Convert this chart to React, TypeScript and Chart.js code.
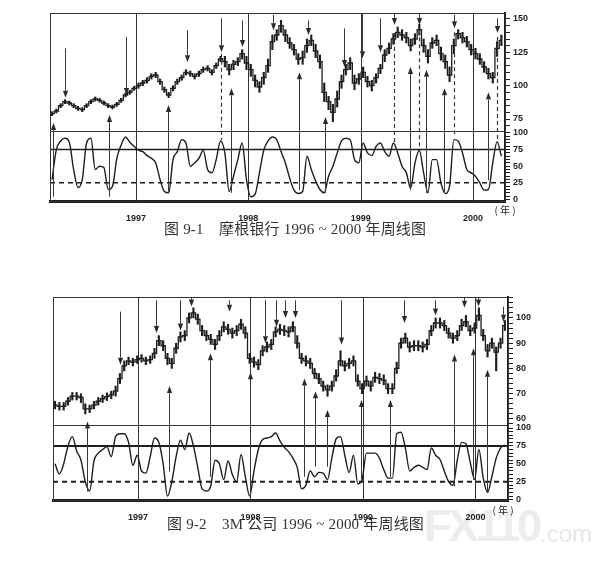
import React, { useEffect, useRef } from "react";
import { Chart, registerables } from "chart.js";

Chart.register(...registerables);

const yearTicks = [1997, 1998, 1999, 2000];
const oscLabels = [0, 25, 50, 75, 100];

// ---------- 图 9-1 摩根银行 (two-week samples) ----------
const jpmStart = 1996.253;
const jpmClose = [79,81,85,88,87,85,83,82,85,88, 90,89,87,85,84,86,89,93,95,98, 100,102,104,107,108,103,97,93,98,103, 106,110,109,107,109,112,113,110,115,120, 118,112,116,118,124,117,112,104,99,106, 115,133,138,145,138,132,127,120,121,130, 134,126,118,95,88,80,90,103,112,117, 102,105,110,103,100,106,113,123,128,135, 140,138,136,130,135,142,130,122,132,134, 124,118,108,130,139,136,133,127,124,120, 114,109,106,128,134];
const jpmHigh = [80.5,82.5,86.5,89.5,88.5,86.5,84.5,83.5,86.5,89.5, 91.5,90.5,88.5,86.5,85.5,87.5,90.5,94.5,96.5,99.5, 102,104,106,109,110,105,99,95,100,105, 108,112,111,109,111,114,115,112,117,122, 122,116,119,121,127,122,116,108,103,110, 120,138,142,149,142,136,131,124,126,135, 138,131,123,102,92,86,96,108,116,121, 108,109,114,107,104,109,116,127,132,139, 144,142,140,135,139,146,135,127,136,138, 129,123,114,135,142,140,137,131,128,124, 118,113,110,133,138];
const jpmLow = [77.5,79.5,83.5,86.5,85.5,83.5,81.5,80.5,83.5,86.5, 88.5,87.5,85.5,83.5,82.5,84.5,87.5,91.5,93.5,96.5, 98,100,102,105,106,101,95,91,96,101, 104,108,107,105,107,110,111,108,113,118, 114,108,112,115,120,112,107,99,95,101, 110,127,134,140,133,128,123,116,116,125, 130,121,113,88,82,73,84,98,108,112, 97,101,106,99,96,102,109,118,124,131, 136,134,132,126,131,138,125,117,128,130, 119,113,103,124,135,132,129,123,120,116, 110,105,102,122,130];
const jpmOsc = [30,75,88,92,86,45,18,30,85,92, 45,50,48,15,20,62,82,94,86,80, 74,72,66,62,55,30,12,10,60,72, 90,85,50,55,62,74,45,40,60,88, 70,12,35,60,85,30,4,8,40,74, 88,94,90,72,55,32,14,9,12,65, 45,28,15,10,35,50,70,88,92,90, 60,55,85,70,66,80,85,72,65,85, 70,50,40,17,55,74,40,10,60,60, 25,9,20,90,88,70,45,40,35,25, 14,15,55,87,65];
const jpmPriceLabels = [75, 100, 125, 150];
// [year, price at tail, price at tip]
const jpmDown = [[1996.368,128,91],[1996.908,136.5,93],[1997.451,141.5,117.5],[1997.757,150.5,125],[1997.944,149,129],[1998.22,153,141.5],[1998.532,149,138],[1998.852,143,114],[1999.012,154,120.5],[1999.173,150.5,125],[1999.297,154,145.5],[1999.52,154,145.5],[1999.832,153,143],[2000.215,150.5,139.5]];
// [year, price at top, oscillator at bottom]
const jpmDash = [[1997.757,124,89],[1999.297,139.5,85],[1999.52,141.5,74],[1999.832,140,94],[2000.215,136.5,89]];
// [year, oscillator at tail, price at tip]
const jpmUp = [[1996.261,4,72],[1996.76,4,78],[1997.285,10,85.5],[1997.846,10,98],[1998.451,14,110],[1998.683,10,76.5],[1999.44,14,114],[1999.582,10,112],[1999.743,11,98],[2000.134,29,95]];

// ---------- 图 9-2 3M 公司 ----------
const mmmStart = 1996.262;
const mmmClose = [65.5,65,65,67,69,69,68.5,64,64,65.5, 67,68,68.8,69.5,71,76,81,83,82.5,83.5, 84,83,83.5,86,91,89,84,82,88,92.5, 93,100,102,99.5,95,93,91.5,89.5,93,96.5, 95.5,94,95,97.5,94,84,82.5,81.5,87,88.5, 89.5,94.5,95.5,95,94.5,96.5,90,84,83,82, 78,76,73,71.5,73,77,83,81,82,83, 75,72,75,73,76.5,76,75.4,72,72,80, 90,92,88.5,89,89,88.5,89.5,95,98,98, 97,94,92,93,97,98.5,95,96,101,93, 87,90,86.5,90,97];
const mmmHigh = [67,66.5,66.5,68.5,70.5,70.5,70,66,65.5,67, 68.5,69.5,70.3,71,73,78,83,84.5,84,85, 85.5,84.5,85,88,93,91,86,84,90,94.5, 95,102,104,101.5,97,95,93.5,91.5,95,98.5, 97.5,96,97,99.5,96.5,86,84.5,83.5,89,90.5, 91.5,96.5,97.5,97,96.5,98.5,93,86,85,84, 80,78,75,73.5,75,79.5,87,83,84,85, 77.5,74,77,75,78.5,78,77.5,74,74,82.5, 92,94,90.5,91,91,90.5,91.5,97,100,100, 99,96,94,95,99.5,101,97,98,104,95.5, 89.5,92,88.5,92,99];
const mmmLow = [64,63.5,63.5,65.5,67.5,67.5,66.5,62,62.5,64, 65.5,66.5,67.3,68,69,74,79,81.5,81,82, 82.5,81.5,82,84,89,87,81.5,80,86,90.5, 91,98,100,97.5,93,91,89.5,87.5,91,94.5, 93.5,92,93,95.5,92,82,80.5,79.5,85,86.5, 87.5,92.5,93.5,93,92.5,94.5,88,82,81,80, 76,74,71,69,71,75,81,79,80,81, 73,70,73,71,74.5,74,73.5,70,70,78, 88,90,86.5,87,87,86.5,87.5,93,96,96, 95,92,90,91,95,96.5,93,94,99,91, 84.5,88,79,88,95];
const mmmOsc = [50,36,50,75,88,68,55,25,12,54, 65,70,74,60,88,92,92,80,48,62, 40,37,60,86,80,50,5,25,60,83, 70,93,75,45,15,12,19,55,50,28, 54,35,25,63,32,5,40,70,84,86, 88,93,82,73,67,58,45,15,20,40, 32,38,37,28,58,85,88,62,38,62, 22,28,65,65,65,58,42,30,30,92, 94,72,40,45,48,45,42,72,62,56, 40,25,20,55,80,78,52,28,70,30, 10,32,58,72,76];
const mmmPriceLabels = [60, 70, 80, 90, 100];
const mmmDown = [[1996.836,102.5,81.5],[1997.163,107,94],[1997.376,107,95],[1997.472,108,104.5],[1997.806,107,102.5],[1998.133,107,90],[1998.23,107,96.5],[1998.31,107,100],[1998.4,107,100],[1998.809,107,89.5],[1999.363,107,98],[1999.645,107,101],[1999.903,108,104],[2000.021,108,104.5],[2000.247,104.5,98.5]];
const mmmDash: number[][] = [];
const mmmUp = [[1996.546,11.5,59],[1997.272,39,73],[1997.637,32,86],[1997.993,5,78.5],[1998.475,32,76],[1998.577,46,71],[1998.681,46,63.5],[1998.984,28,67.5],[1999.245,32,67.5],[1999.808,18.5,85.5],[1999.98,28,88],[2000.099,10,79.5]];

const INK = "#1e1e1e";

function steps(a: number, b: number, s: number) {
  const out: number[] = [];
  for (let v = a; v <= b + 1e-9; v += s) out.push(Math.round(v * 100) / 100);
  return out;
}

type Spec = {
  start: number; close: number[]; high: number[]; low: number[]; osc: number[];
  xMin: number; xMax: number;
  pMin: number; pMax: number; pTicks: number[]; pLabels: number[];
  oMin: number; oMax: number; oTicks: number[];
  pWeight: number; oWeight: number;
  pad: { left: number; right: number; top: number; bottom: number };
  axisW: number; xAxisH: number; fontSize: number;
  down: number[][]; up: number[][]; dash: number[][];
  refWidth: number; suffixX: number; suffixDy: number;
};

function drawArrow(ctx: CanvasRenderingContext2D, x: number, yFrom: number, yTo: number) {
  const head = 7, half = 2.6;
  const dir = yTo > yFrom ? 1 : -1;
  ctx.beginPath();
  ctx.moveTo(x, yFrom);
  ctx.lineTo(x, yTo - dir * head);
  ctx.stroke();
  ctx.beginPath();
  ctx.moveTo(x, yTo);
  ctx.lineTo(x - half, yTo - dir * head);
  ctx.lineTo(x + half, yTo - dir * head);
  ctx.closePath();
  ctx.fill();
}

function overlay(spec: Spec) {
  return {
    id: "overlay",
    beforeDatasetsDraw(chart: any) {
      const { ctx, chartArea: a, scales } = chart;
      const xs = scales.x, yP = scales.y, yO = scales.y2;
      const hl = (y: number) => { ctx.beginPath(); ctx.moveTo(a.left, y); ctx.lineTo(a.right, y); ctx.stroke(); };
      ctx.save();
      ctx.strokeStyle = "#333";
      ctx.lineWidth = 1;
      yearTicks.forEach((v) => {
        const px = Math.round(xs.getPixelForValue(v)) + 0.5;
        ctx.beginPath(); ctx.moveTo(px, a.top); ctx.lineTo(px, a.bottom); ctx.stroke();
      });
      hl(Math.round(yP.bottom) + 0.5);
      ctx.strokeStyle = INK;
      ctx.lineWidth = spec.refWidth;
      hl(yO.getPixelForValue(75));
      ctx.setLineDash([5, 4]);
      hl(yO.getPixelForValue(25));
      ctx.restore();
    },
    afterDatasetsDraw(chart: any) {
      const { ctx, chartArea: a, scales } = chart;
      const xs = scales.x, yP = scales.y, yO = scales.y2;
      ctx.save();
      ctx.strokeStyle = "#3a3a3a";
      ctx.fillStyle = "#2a2a2a";
      ctx.lineWidth = 1;
      spec.down.forEach(([x, from, to]) => {
        drawArrow(ctx, Math.round(xs.getPixelForValue(x)) + 0.5, yP.getPixelForValue(from), yP.getPixelForValue(to));
      });
      spec.up.forEach(([x, from, to]) => {
        drawArrow(ctx, Math.round(xs.getPixelForValue(x)) + 0.5, yO.getPixelForValue(from), yP.getPixelForValue(to));
      });
      ctx.setLineDash([4, 3]);
      ctx.lineWidth = 1.2;
      spec.dash.forEach(([x, from, to]) => {
        const px = Math.round(xs.getPixelForValue(x)) + 0.5;
        ctx.beginPath(); ctx.moveTo(px, yP.getPixelForValue(from)); ctx.lineTo(px, yO.getPixelForValue(to)); ctx.stroke();
      });
      ctx.setLineDash([]);
      ctx.strokeStyle = "#333";
      ctx.lineWidth = 1;
      ctx.strokeRect(Math.round(a.left) + 0.5, Math.round(a.top) + 0.5, Math.round(a.right - a.left), Math.round(a.bottom - a.top));
      ctx.restore();
    },
    afterDraw(chart: any) {
      const { ctx, chartArea: a } = chart;
      ctx.save();
      ctx.fillStyle = INK;
      ctx.font = `${spec.fontSize + 1}px "Noto Sans CJK SC", sans-serif`;
      ctx.textAlign = "center";
      ctx.textBaseline = "middle";
      ctx.fillText("( 年 )", a.right + spec.suffixX, a.bottom + spec.suffixDy);
      ctx.restore();
    },
  };
}

function makeConfig(spec: Spec): any {
  const xs = spec.close.map((_, i) => spec.start + i / 26);
  const tickFont = { family: '"Liberation Sans", Arial, sans-serif', size: spec.fontSize, weight: "bold" as const };
  return {
    type: "line",
    data: {
      datasets: [
        {
          type: "bar",
          data: xs.map((x, i) => ({ x, y: [spec.low[i], spec.high[i]] })),
          yAxisID: "y",
          backgroundColor: INK,
          barThickness: 1.5,
          order: 2,
        },
        {
          type: "line",
          data: xs.map((x, i) => ({ x, y: spec.close[i] })),
          yAxisID: "y",
          borderColor: INK,
          borderWidth: 1.3,
          stepped: "middle",
          pointRadius: 0,
          fill: false,
          order: 1,
        },
        {
          type: "line",
          data: xs.map((x, i) => ({ x, y: spec.osc[i] })),
          yAxisID: "y2",
          borderColor: INK,
          borderWidth: 1.4,
          cubicInterpolationMode: "monotone",
          pointRadius: 0,
          fill: false,
          order: 0,
        },
      ],
    },
    options: {
      animation: false,
      responsive: false,
      events: [],
      layout: { padding: spec.pad },
      plugins: { legend: { display: false }, tooltip: { enabled: false }, title: { display: false } },
      scales: {
        x: {
          type: "linear",
          min: spec.xMin,
          max: spec.xMax,
          offset: false,
          afterBuildTicks: (s: any) => { s.ticks = yearTicks.map((v) => ({ value: v })); },
          afterFit: (s: any) => { s.height = spec.xAxisH; },
          ticks: { autoSkip: false, maxRotation: 0, padding: 4, color: INK, font: tickFont, callback: (v: number) => String(Math.round(v)) },
          grid: { display: false },
          border: { display: true, color: INK, width: 3 },
        },
        y: {
          type: "linear",
          position: "right",
          stack: "panels",
          stackWeight: spec.pWeight,
          min: spec.pMin,
          max: spec.pMax,
          afterBuildTicks: (s: any) => { s.ticks = spec.pTicks.map((v) => ({ value: v })); },
          afterFit: (s: any) => { s.width = spec.axisW; },
          ticks: { autoSkip: false, padding: 3, color: INK, font: tickFont, callback: (v: number) => (spec.pLabels.includes(v) ? String(v) : "") },
          grid: { drawOnChartArea: false, drawTicks: true, tickLength: 5, color: INK, tickWidth: 1 },
          border: { display: true, color: INK, width: 2 },
        },
        y2: {
          type: "linear",
          position: "right",
          stack: "panels",
          stackWeight: spec.oWeight,
          min: spec.oMin,
          max: spec.oMax,
          afterBuildTicks: (s: any) => { s.ticks = spec.oTicks.map((v) => ({ value: v })); },
          afterFit: (s: any) => { s.width = spec.axisW; },
          ticks: { autoSkip: false, padding: 3, color: INK, font: tickFont, callback: (v: number) => (oscLabels.includes(v) ? String(v) : "") },
          grid: { drawOnChartArea: false, drawTicks: true, tickLength: 5, color: INK, tickWidth: 1 },
          border: { display: true, color: INK, width: 2 },
        },
      },
    },
    plugins: [overlay(spec)],
  };
}

const spec1: Spec = {
  start: jpmStart, close: jpmClose, high: jpmHigh, low: jpmLow, osc: jpmOsc,
  xMin: 1996.235, xMax: 2000.285,
  pMin: 66, pMax: 154.5, pTicks: steps(70, 150, 5), pLabels: jpmPriceLabels,
  oMin: -2.3, oMax: 103, oTicks: steps(0, 100, 5),
  pWeight: 118, oWeight: 70,
  pad: { left: 50, right: 42, top: 13, bottom: 0 },
  axisW: 50, xAxisH: 21, fontSize: 9,
  down: jpmDown, up: jpmUp, dash: jpmDash,
  refWidth: 1.5, suffixX: 0, suffixDy: 9,
};

const spec2: Spec = {
  start: mmmStart, close: mmmClose, high: mmmHigh, low: mmmLow, osc: mmmOsc,
  xMin: 1996.244, xMax: 2000.29,
  pMin: 57.6, pMax: 108.3, pTicks: steps(58, 108, 2), pLabels: mmmPriceLabels,
  oMin: -0.5, oMax: 104.2, oTicks: steps(0, 100, 5),
  pWeight: 128, oWeight: 75,
  pad: { left: 53, right: 39, top: 12, bottom: 0 },
  axisW: 50, xAxisH: 20, fontSize: 9,
  down: mmmDown, up: mmmUp, dash: mmmDash,
  refWidth: 2, suffixX: -5, suffixDy: 10,
};

function ChartCanvas({ spec, top, height }: { spec: Spec; top: number; height: number }) {
  const ref = useRef<HTMLCanvasElement | null>(null);
  useEffect(() => {
    if (!ref.current) return;
    const chart = new Chart(ref.current, makeConfig(spec));
    return () => chart.destroy();
  }, [spec]);
  return <canvas ref={ref} width={597} height={height} style={{ position: "absolute", left: 0, top, width: 597, height }} />;
}

const captionStyle: React.CSSProperties = {
  position: "absolute",
  fontFamily: '"Liberation Serif", "Noto Sans CJK SC", serif',
  fontSize: 15,
  lineHeight: "15px",
  letterSpacing: 0.2,
  color: "#333",
  whiteSpace: "pre",
};

export default function App() {
  return (
    <div style={{ position: "absolute", left: 0, top: 0, width: 597, height: 572, background: "#fff", overflow: "hidden" }}>
      <div style={{ position: "absolute", left: 424, top: 500, fontFamily: '"Liberation Sans", Arial, sans-serif', fontWeight: "bold", fontSize: 45, color: "#ededed", letterSpacing: -3 }}>FX110</div>
      <div style={{ position: "absolute", left: 540, top: 520, fontFamily: '"Liberation Sans", Arial, sans-serif', fontSize: 24, color: "#e8e8e8" }}>.com</div>
      <ChartCanvas spec={spec1} top={0} height={222} />
      <ChartCanvas spec={spec2} top={285} height={235} />
      <div style={{ ...captionStyle, left: 164, top: 222 }}>{"图 9-1\u2003摩根银行 1996 ~ 2000 年周线图"}</div>
      <div style={{ ...captionStyle, left: 167, top: 517 }}>{"图 9-2\u20033M 公司 1996 ~ 2000 年周线图"}</div>
    </div>
  );
}
